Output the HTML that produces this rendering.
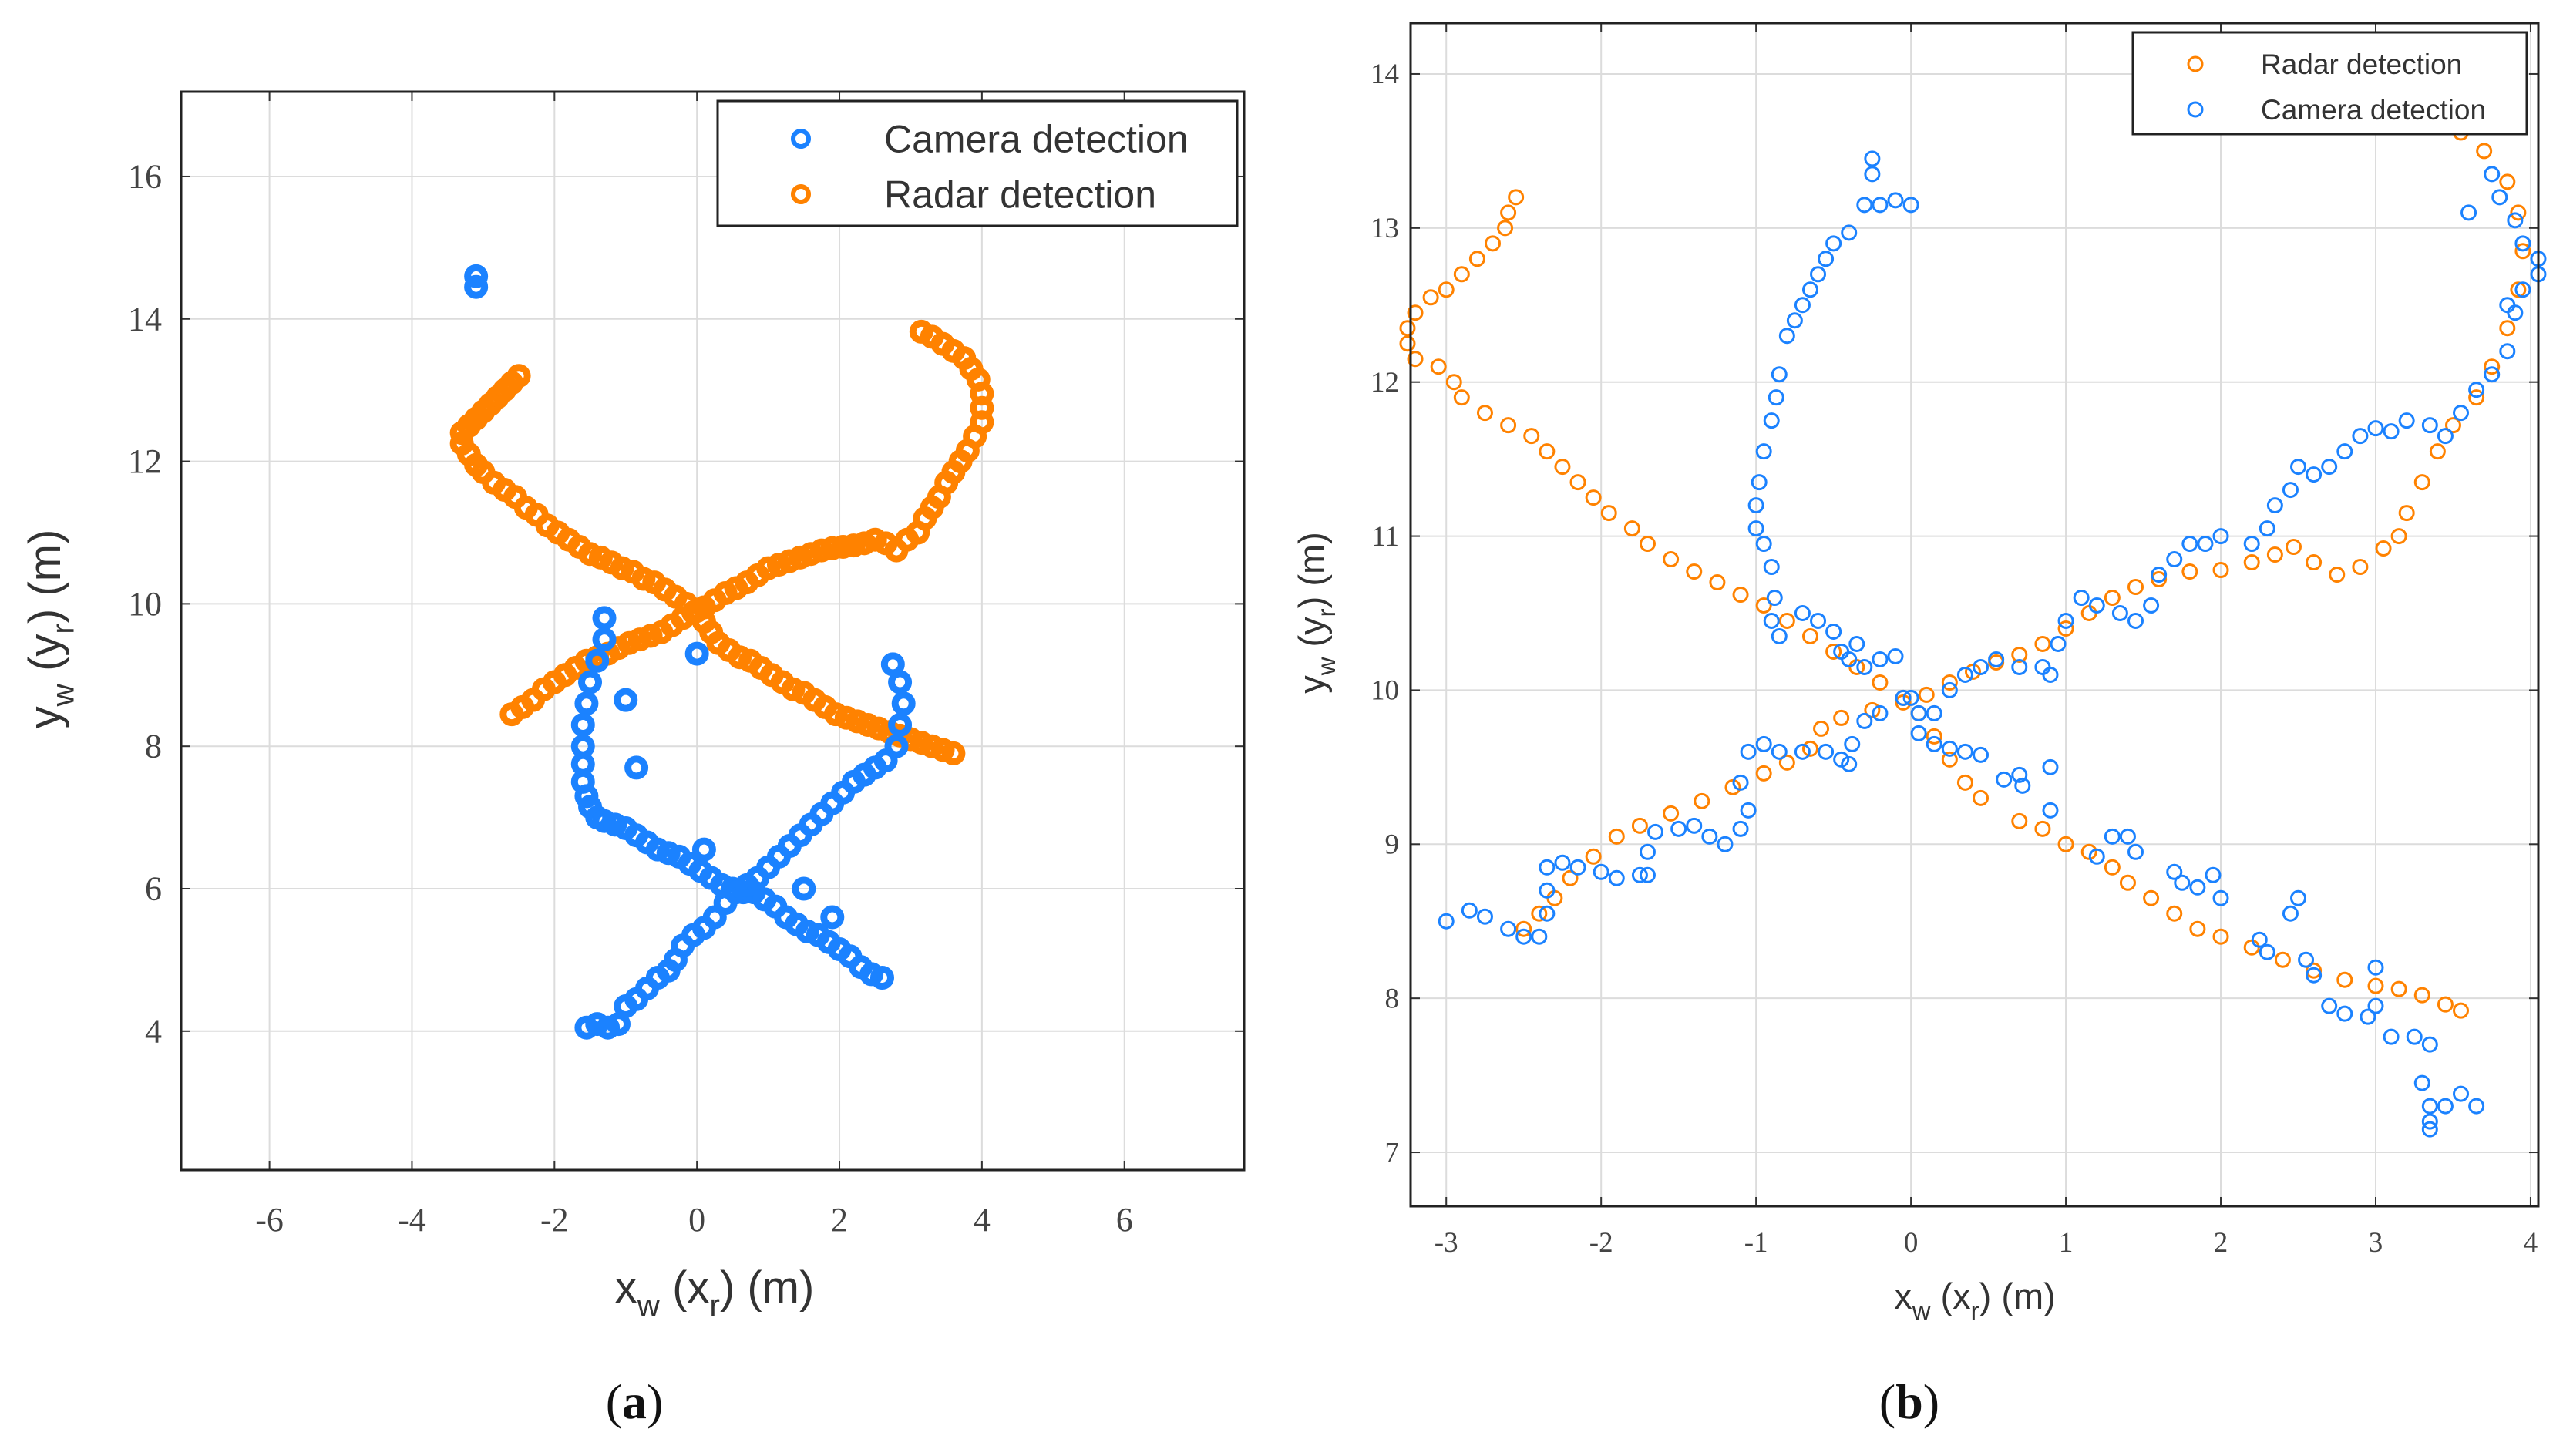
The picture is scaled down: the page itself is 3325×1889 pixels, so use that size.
<!DOCTYPE html>
<html><head><meta charset="utf-8"><style>
html,body{margin:0;padding:0;background:#fff;}
svg{display:block;}
.tick{font-family:"Liberation Serif",serif;fill:#444;}
.lab{font-family:"Liberation Sans",sans-serif;fill:#333;}
</style></head><body>
<svg id="fig" width="3325" height="1889" viewBox="0 0 3325 1889" xmlns="http://www.w3.org/2000/svg"></svg>
<script>
// ---------- Panel (a) data ----------
const aRadar1X = [-2.5,-2.6,-2.7,-2.8,-2.9,-3.0,-3.1,-3.2,-3.3,-3.3,-3.2,-3.1,-3.0,-2.85,-2.7,-2.55,-2.4,-2.25,-2.1,-1.95,-1.8,-1.65,-1.5,-1.35,-1.2,-1.05,-0.9,-0.75,-0.6,-0.45,-0.3,-0.15,0,0.1,0.2,0.3,0.45,0.6,0.75,0.9,1.05,1.2,1.35,1.5,1.65,1.8,1.95,2.1,2.25,2.4,2.55,2.7,2.85,3.0,3.15,3.3,3.45,3.6];
const aRadar1Y = [13.2,13.1,13.0,12.9,12.8,12.7,12.6,12.5,12.4,12.25,12.1,11.95,11.85,11.7,11.6,11.5,11.35,11.25,11.1,11.0,10.9,10.8,10.7,10.65,10.58,10.5,10.45,10.35,10.3,10.2,10.1,10.0,9.9,9.75,9.6,9.45,9.35,9.25,9.2,9.1,9.0,8.9,8.8,8.75,8.65,8.55,8.45,8.4,8.35,8.3,8.25,8.2,8.15,8.1,8.05,8.0,7.95,7.9];
const aRadar2X = [-2.6,-2.45,-2.3,-2.15,-2.0,-1.85,-1.7,-1.55,-1.4,-1.25,-1.1,-0.95,-0.8,-0.65,-0.5,-0.35,-0.2,-0.05,0.1,0.25,0.4,0.55,0.7,0.85,1.0,1.15,1.3,1.45,1.6,1.75,1.9,2.05,2.2,2.35,2.5,2.65,2.8,2.95,3.1,3.2,3.3,3.4,3.5,3.6,3.7,3.8,3.9,4.0,4.0,4.0,3.95,3.85,3.75,3.6,3.45,3.3,3.15];
const aRadar2Y = [8.45,8.55,8.65,8.8,8.9,9.0,9.1,9.2,9.25,9.3,9.38,9.45,9.5,9.55,9.6,9.7,9.8,9.88,9.95,10.05,10.15,10.22,10.3,10.4,10.5,10.55,10.6,10.65,10.7,10.75,10.78,10.8,10.82,10.85,10.9,10.85,10.75,10.9,11.0,11.2,11.35,11.5,11.7,11.85,12.0,12.15,12.35,12.55,12.75,12.95,13.15,13.3,13.45,13.55,13.65,13.75,13.82];
const aCamX = [-3.1,-3.1,-1.3,-1.3,-1.4,-1.5,-1.55,-1.6,-1.6,-1.6,-1.6,-1.55,-1.5,-1.4,-1.3,-1.15,-1.0,-0.85,-0.7,-0.55,-0.4,-0.25,-0.1,0.05,0.2,0.35,0.5,0.65,0.8,0.95,1.1,1.25,1.4,1.55,1.7,1.85,2.0,2.15,2.3,2.45,2.6,
 -1.55,-1.4,-1.25,-1.1,-1.0,-0.85,-0.7,-0.55,-0.4,-0.3,-0.2,-0.05,0.1,0.25,0.4,0.55,0.7,0.85,1.0,1.15,1.3,1.45,1.6,1.75,1.9,2.05,2.2,2.35,2.5,2.65,2.8,2.85,2.9,2.85,2.75,
 -1.0,-0.85,0.0,1.5,1.9,0.1];
const aCamY = [14.6,14.45,9.8,9.5,9.2,8.9,8.6,8.3,8.0,7.75,7.5,7.3,7.15,7.0,6.95,6.9,6.85,6.75,6.65,6.55,6.5,6.45,6.35,6.25,6.15,6.05,6.0,5.95,5.95,5.85,5.75,5.6,5.5,5.4,5.35,5.25,5.15,5.05,4.9,4.8,4.75,
 4.05,4.1,4.05,4.1,4.35,4.45,4.6,4.75,4.85,5.0,5.2,5.35,5.45,5.6,5.8,5.95,6.05,6.15,6.3,6.45,6.6,6.75,6.9,7.05,7.2,7.35,7.5,7.6,7.7,7.8,8.0,8.3,8.6,8.9,9.15,
 8.65,7.7,9.3,6.0,5.6,6.55];
// ---------- Panel (b) data ----------
const bRadar1X = [-2.55,-2.6,-2.62,-2.7,-2.8,-2.9,-3.0,-3.1,-3.2,-3.25,-3.25,-3.2,-3.05,-2.95,-2.9,-2.75,-2.6,-2.45,-2.35,-2.25,-2.15,-2.05,-1.95,-1.8,-1.7,-1.55,-1.4,-1.25,-1.1,-0.95,-0.8,-0.65,-0.5,-0.35,-0.2,-0.05,0.05,0.15,0.25,0.35,0.45,0.7,0.85,1.0,1.15,1.3,1.4,1.55,1.7,1.85,2.0,2.2,2.4,2.6,2.8,3.0,3.15,3.3,3.45,3.55];
const bRadar1Y = [13.2,13.1,13.0,12.9,12.8,12.7,12.6,12.55,12.45,12.35,12.25,12.15,12.1,12.0,11.9,11.8,11.72,11.65,11.55,11.45,11.35,11.25,11.15,11.05,10.95,10.85,10.77,10.7,10.62,10.55,10.45,10.35,10.25,10.15,10.05,9.95,9.85,9.7,9.55,9.4,9.3,9.15,9.1,9.0,8.95,8.85,8.75,8.65,8.55,8.45,8.4,8.33,8.25,8.18,8.12,8.08,8.06,8.02,7.96,7.92];
const bRadar2X = [-2.5,-2.4,-2.3,-2.2,-2.05,-1.9,-1.75,-1.55,-1.35,-1.15,-0.95,-0.8,-0.65,-0.58,-0.45,-0.25,-0.05,0.1,0.25,0.4,0.55,0.7,0.85,1.0,1.15,1.3,1.45,1.6,1.8,2.0,2.2,2.35,2.47,2.6,2.75,2.9,3.05,3.15,3.2,3.3,3.4,3.5,3.65,3.75,3.85,3.92,3.95,3.92,3.85,3.7,3.55,3.45];
const bRadar2Y = [8.45,8.55,8.65,8.78,8.92,9.05,9.12,9.2,9.28,9.37,9.46,9.53,9.62,9.75,9.82,9.87,9.92,9.97,10.05,10.12,10.18,10.23,10.3,10.4,10.5,10.6,10.67,10.72,10.77,10.78,10.83,10.88,10.93,10.83,10.75,10.8,10.92,11.0,11.15,11.35,11.55,11.72,11.9,12.1,12.35,12.6,12.85,13.1,13.3,13.5,13.62,13.7];
const bCamX = [-3.0,-2.85,-2.75,-2.6,-2.5,-2.4,-2.35,-2.35,-2.35,-2.25,-2.15,-2.0,-1.9,-1.75,-1.7,-1.7,-1.65,-1.5,-1.4,-1.3,-1.2,-1.1,-1.05,-1.1,-1.05,-0.95,-0.85,-0.7,-0.55,-0.45,-0.4,-0.38,-0.3,-0.2,-0.05,0.05,0.05,0.15,0.25,0.35,0.45,0.6,0.7,0.72,0.9,0.9,1.2,1.3,1.4,1.45,1.7,1.75,1.85,1.95,2.0,2.25,2.3,2.45,2.5,2.55,2.6,2.7,2.8,2.95,3.0,3.0,3.1,3.25,3.35,3.3,3.35,3.35,3.35,3.45,3.55,3.65,
 -0.25,-0.25,-0.3,-0.2,-0.1,0.0,-0.4,-0.5,-0.55,-0.6,-0.65,-0.7,-0.75,-0.8,-0.85,-0.87,-0.9,-0.95,-0.98,-1.0,-1.0,-0.95,-0.9,-0.88,-0.9,-0.85,-0.7,-0.6,-0.5,-0.45,-0.4,-0.35,-0.3,-0.2,-0.1,0.0,
 0.15,0.25,0.35,0.45,0.55,0.7,0.85,0.9,0.95,1.0,1.1,1.2,1.35,1.45,1.55,1.6,1.7,1.8,1.9,2.0,2.2,2.3,2.35,2.45,2.5,2.6,2.7,2.8,2.9,3.0,3.1,3.2,3.35,3.45,3.55,3.65,3.75,3.85,3.9,3.95,4.05,4.05,3.95,3.9,3.8,3.75,3.85,3.6];
const bCamY = [8.5,8.57,8.53,8.45,8.4,8.4,8.55,8.7,8.85,8.88,8.85,8.82,8.78,8.8,8.8,8.95,9.08,9.1,9.12,9.05,9.0,9.1,9.22,9.4,9.6,9.65,9.6,9.6,9.6,9.55,9.52,9.65,9.8,9.85,9.95,9.85,9.72,9.65,9.62,9.6,9.58,9.42,9.45,9.38,9.5,9.22,8.92,9.05,9.05,8.95,8.82,8.75,8.72,8.8,8.65,8.38,8.3,8.55,8.65,8.25,8.15,7.95,7.9,7.88,7.95,8.2,7.75,7.75,7.7,7.45,7.3,7.2,7.15,7.3,7.38,7.3,
 13.45,13.35,13.15,13.15,13.18,13.15,12.97,12.9,12.8,12.7,12.6,12.5,12.4,12.3,12.05,11.9,11.75,11.55,11.35,11.2,11.05,10.95,10.8,10.6,10.45,10.35,10.5,10.45,10.38,10.25,10.2,10.3,10.15,10.2,10.22,9.95,
 9.85,10.0,10.1,10.15,10.2,10.15,10.15,10.1,10.3,10.45,10.6,10.55,10.5,10.45,10.55,10.75,10.85,10.95,10.95,11.0,10.95,11.05,11.2,11.3,11.45,11.4,11.45,11.55,11.65,11.7,11.68,11.75,11.72,11.65,11.8,11.95,12.05,12.2,12.45,12.6,12.7,12.8,12.9,13.05,13.2,13.35,12.5,13.1];
const aXTicks = [-6,-4,-2,0,2,4,6];
const aYTicks = [4,6,8,10,12,14,16];
const bXTicks = [-3,-2,-1,0,1,2,3,4];
const bYTicks = [7,8,9,10,11,12,13,14];

const NS = "http://www.w3.org/2000/svg";
const svg = document.getElementById('fig');
const ORANGE = "#ff8200", BLUE = "#1b82ff";
function mk(tag, attrs, parent){
  const e = document.createElementNS(NS, tag);
  for (const k in attrs) e.setAttribute(k, attrs[k]);
  (parent||svg).appendChild(e); return e;
}
function panel(P){
  const g = mk('g', {});
  
  
  const sx = v => P.L + (v - P.x0) / (P.x1 - P.x0) * (P.R - P.L);
  const sy = v => P.B - (v - P.y0) / (P.y1 - P.y0) * (P.B - P.T);
  P.xt.forEach(t => {
    const x = sx(t);
    const gl = mk('line', {x1:x, x2:x, y1:P.T, y2:P.B, stroke:'#dcdcdc', 'stroke-width':2}, g);
    
    
    mk('line', {x1:x, x2:x, y1:P.B, y2:P.B-12, stroke:'#333', 'stroke-width':2}, g);
    mk('line', {x1:x, x2:x, y1:P.T, y2:P.T+12, stroke:'#333', 'stroke-width':2}, g);
    const tx = mk('text', {x:x, y:P.xly, 'text-anchor':'middle', 'font-size':P.tfs, class:'tick'}, g);
    tx.textContent = t < 0 ? '-' + Math.abs(t) : String(t);
    
    
  });
  P.yt.forEach(t => {
    const y = sy(t);
    const gl = mk('line', {x1:P.L, x2:P.R, y1:y, y2:y, stroke:'#dcdcdc', 'stroke-width':2}, g);
    
    
    mk('line', {x1:P.L, x2:P.L+12, y1:y, y2:y, stroke:'#333', 'stroke-width':2}, g);
    mk('line', {x1:P.R, x2:P.R-12, y1:y, y2:y, stroke:'#333', 'stroke-width':2}, g);
    const ty = mk('text', {x:P.ylx, y:y + P.tfs*0.33, 'text-anchor':'end', 'font-size':P.tfs, class:'tick'}, g);
    ty.textContent = String(t);
    
    
  });
  P.series.forEach(s => {
    const sg = mk('g', {fill:'none', stroke:s.color, 'stroke-width':P.sw}, g);
    
    
    s.xs.forEach((xv, i) => {
      const c = mk('circle', {cx:sx(xv), cy:sy(s.ys[i]), r:P.r}, sg);
      
      
    });
  });
  const box = mk('rect', {x:P.L, y:P.T, width:P.R-P.L, height:P.B-P.T, fill:'none', stroke:'#222', 'stroke-width':3}, g);
  
  
  const lg = mk('g', {}, g);
  
  
  mk('rect', {x:P.lg.x, y:P.lg.y, width:P.lg.w, height:P.lg.h, fill:'#fff', stroke:'#222', 'stroke-width':3}, lg);
  P.lg.items.forEach(it => {
    const e = mk('g', {}, lg);
    
    
    mk('circle', {cx:P.lg.mx, cy:it.y, r:P.lg.r, fill:'none', stroke:it.color, 'stroke-width':P.lg.sw}, e);
    const t = mk('text', {x:P.lg.tx, y:it.y + P.lg.fs*0.35, 'font-size':P.lg.fs, class:'lab', fill:'#222'}, e);
    t.textContent = it.label;
  });
  const xl = mk('text', {x:P.xlab[0], y:P.xlab[1], 'text-anchor':'middle', 'font-size':P.lfs, class:'lab'}, g);
  xl.innerHTML = 'x<tspan dy="'+(P.lfs*0.3)+'" font-size="'+(P.lfs*0.7)+'">w</tspan><tspan dy="'+(-P.lfs*0.3)+'"> (x</tspan><tspan dy="'+(P.lfs*0.3)+'" font-size="'+(P.lfs*0.7)+'">r</tspan><tspan dy="'+(-P.lfs*0.3)+'">) (m)</tspan>';
  
  
  const yl = mk('text', {x:0, y:0, 'text-anchor':'middle', 'font-size':P.lfs, class:'lab', transform:'translate('+P.ylab[0]+','+P.ylab[1]+') rotate(-90)'}, g);
  yl.innerHTML = 'y<tspan dy="'+(P.lfs*0.3)+'" font-size="'+(P.lfs*0.7)+'">w</tspan><tspan dy="'+(-P.lfs*0.3)+'"> (y</tspan><tspan dy="'+(P.lfs*0.3)+'" font-size="'+(P.lfs*0.7)+'">r</tspan><tspan dy="'+(-P.lfs*0.3)+'">) (m)</tspan>';
  
  
  const cap = mk('text', {x:P.cap[0], y:P.cap[1], 'text-anchor':'middle', 'font-size':64, 'font-family':'"Liberation Serif",serif', fill:'#111'}, g);
  cap.innerHTML = '(<tspan font-weight="bold">' + P.capText + '</tspan>)';
  
  
}
panel({name:'panel-a', L:235, R:1614, T:119, B:1518, x0:-7.24, x1:7.68, y0:2.05, y1:17.19,
  xt:aXTicks, yt:aYTicks, tfs:44, xly:1597, ylx:210, r:11, sw:9,
  series:[{name:'radar-series', color:ORANGE, xs:aRadar1X, ys:aRadar1Y},
          {name:'radar-series-2', color:ORANGE, xs:aRadar2X, ys:aRadar2Y},
          {name:'camera-series', color:BLUE, xs:aCamX, ys:aCamY}],
  lg:{x:931, y:131, w:674, h:162, mx:1039, tx:1147, fs:50, r:10, sw:6,
      items:[{y:180, color:BLUE, label:'Camera detection'},{y:252, color:ORANGE, label:'Radar detection'}]},
  lfs:58, xlab:[927,1690], ylab:[78,816], cap:[823,1840], capText:'a'});
panel({name:'panel-b', L:1830, R:3293, T:30, B:1565, x0:-3.23, x1:4.05, y0:6.65, y1:14.33,
  xt:bXTicks, yt:bYTicks, tfs:37, xly:1624, ylx:1815, r:9, sw:3,
  series:[{name:'radar-series', color:ORANGE, xs:bRadar1X, ys:bRadar1Y},
          {name:'radar-series-2', color:ORANGE, xs:bRadar2X, ys:bRadar2Y},
          {name:'camera-series', color:BLUE, xs:bCamX, ys:bCamY}],
  lg:{x:2767, y:42, w:511, h:132, mx:2848, tx:2933, fs:37, r:9, sw:3,
      items:[{y:83, color:ORANGE, label:'Radar detection'},{y:142, color:BLUE, label:'Camera detection'}]},
  lfs:47, xlab:[2562,1698], ylab:[1718,795], cap:[2477,1840], capText:'b'});
</script>
</body></html>
